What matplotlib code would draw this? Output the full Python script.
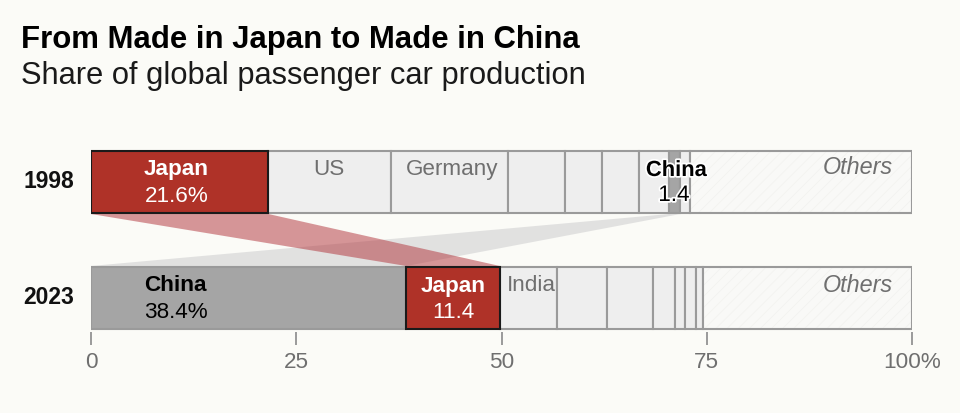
import matplotlib
matplotlib.use("Agg")
import matplotlib.pyplot as plt
import matplotlib.patheffects as pe
from matplotlib.patches import Polygon

years = ["1998", "2023"]
seg_1998 = [21.6, 14.9, 14.3, 6.9, 4.6, 4.4, 3.7, 1.4, 1.2, 27.0]
seg_2023 = [38.4, 11.4, 6.9, 6.1, 5.6, 2.7, 1.3, 1.3, 0.8, 25.5]
names_1998 = ["Japan", "US", "Germany", "", "", "", "", "China", "", "Others"]
names_2023 = ["China", "Japan", "India", "", "", "", "", "", "", "Others"]
ticks = [0, 25, 50, 75, 100]
ticklabels = ["0", "25", "50", "75", "100%"]

BG = "#fbfbf7"; RED = "#af3228"; GREY = "#a5a5a5"; LIGHT = "#eeeeee"; OTH = "#f9f9f7"
EDGE = "#9a9a9a"; DARK = "#1a1a1a"; TXT = "#6f6f6f"
plt.rcParams["font.family"] = ["Liberation Sans", "DejaVu Sans"]
plt.rcParams["hatch.linewidth"] = 0.5

W, H = 960, 413
fig = plt.figure(figsize=(9.6, 4.13), dpi=100, facecolor=BG)
L, R, T, B = 91, 912, 140, 332
ax = fig.add_axes([L / W, 1 - B / H, (R - L) / W, (B - T) / H])
ax.set_facecolor("none")
ax.set_xlim(0, 100)
ax.set_ylim(B, T)
row_y = {"1998": 182, "2023": 298}
bar_h = 62

def fill_for(name):
    return {"Japan": RED, "China": GREY, "Others": OTH}.get(name, LIGHT)

def draw(year, segs, names):
    lefts = [sum(segs[:i]) for i in range(len(segs))]
    y = row_y[year]
    order = sorted(range(len(segs)), key=lambda i: names[i] == "Japan")
    for i in order:
        n = names[i]
        if n == "Others":
            ax.barh(y, segs[i], left=lefts[i], height=bar_h, color=OTH,
                    edgecolor="#f2f2ef", linewidth=0, hatch="///", zorder=2)
            ax.barh(y, segs[i], left=lefts[i], height=bar_h, color="none",
                    edgecolor=EDGE, linewidth=1.5, zorder=2)
        else:
            jp = n == "Japan"
            ax.barh(y, segs[i], left=lefts[i], height=bar_h, color=fill_for(n),
                    edgecolor=DARK if jp else EDGE, linewidth=1.5, zorder=3 if jp else 2)
    return {n: (lefts[i], lefts[i] + segs[i]) for i, n in enumerate(names) if n}

s98 = draw("1998", seg_1998, names_1998)
s23 = draw("2023", seg_2023, names_2023)

y1 = row_y["1998"] + bar_h / 2 + 1
y2 = row_y["2023"] - bar_h / 2 - 1
ax.add_patch(Polygon([(s98["China"][0], y1), (s98["China"][1], y1), (s23["China"][1], y2), (s23["China"][0], y2)],
                     closed=True, fc="#9f9fa6", alpha=0.28, ec="none", zorder=1))
ax.add_patch(Polygon([(s98["Japan"][0], y1), (s98["Japan"][1], y1), (s23["Japan"][1], y2), (s23["Japan"][0], y2)],
                     closed=True, fc="#b03038", alpha=0.5, ec="none", zorder=1))

def label(x, y, s, fs=16.2, **kw):
    ax.text(x, y + 1.5, s, ha="center", va="center", fontsize=fs, zorder=6, clip_on=False, **kw)

halo = [pe.withStroke(linewidth=2.5, foreground="white")]
label(10.4, 168.5, "Japan", color="white", fontweight="bold")
label(10.4, 195, "21.6%", color="white")
label(29.0, 168, "US", color=TXT)
label(43.95, 168.5, "Germany", color=TXT)
label(71.3, 169, "China", color="black", fontweight="bold", path_effects=halo, fs=15.8)
label(71.0, 194, "1.4", color="black", path_effects=halo)
label(93.4, 166.5, "Others", color=TXT, style="italic", fs=16.8)
label(10.3, 284, "China", color="black", fontweight="bold")
label(10.3, 311, "38.4%", color="black")
label(44.1, 285, "Japan", color="white", fontweight="bold")
label(44.1, 311, "11.4", color="white")
label(53.6, 284, "India", color=TXT)
label(93.4, 284, "Others", color=TXT, style="italic", fs=16.8)

for yr in years:
    fig.text(49 / W, 1 - row_y[yr] / H, yr, ha="center", va="center",
             fontsize=16.5, fontweight="bold", color="#111111")

for s in ax.spines.values():
    s.set_visible(False)
ax.set_yticks([])
ax.set_xticks(ticks)
ax.set_xticklabels(ticklabels, fontsize=16.2, color=TXT)
ax.tick_params(axis="x", length=9.5, width=1.2, color="#8a8a8a", pad=5)

fig.text(21 / W, 1 - 40 / H, "From Made in Japan to Made in China", ha="left", va="center",
         fontsize=22.4, fontweight="bold", color="black")
fig.text(21 / W, 1 - 76 / H, "Share of global passenger car production", ha="left", va="center",
         fontsize=22.2, color="#1a1a1a")

fig.savefig("out.png", dpi=100, facecolor=BG)
